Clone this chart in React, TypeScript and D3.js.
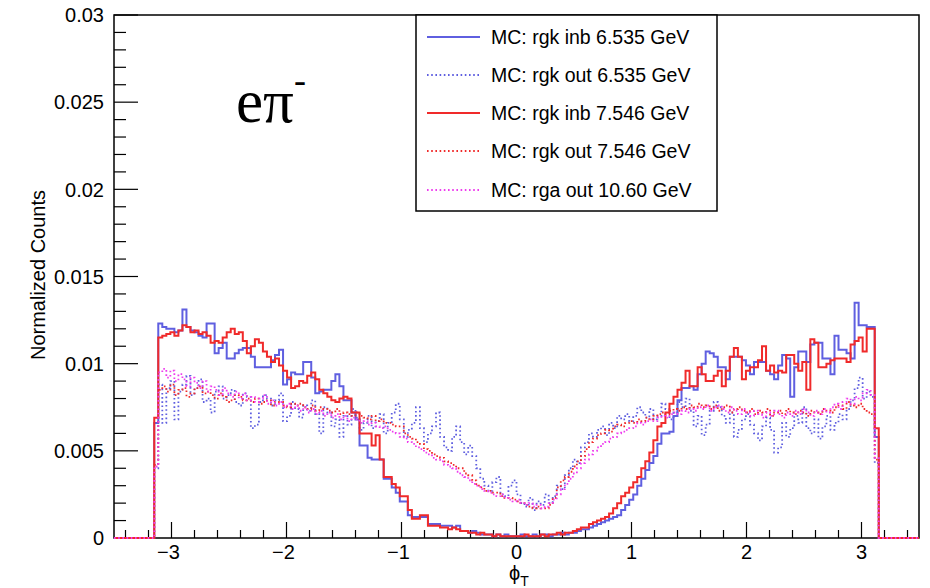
import React from "react";
import * as d3 from "d3";

// Histogram binning: 200 bins on [-3.5, 3.5]; filled bins start at bin 10
const BIN_LOW = -3.5;
const BIN_HIGH = 3.5;
const N_BINS = 200;
const FIRST_FILLED_BIN = 10;

const seriesNames = [
  "MC: rgk inb 6.535 GeV",
  "MC: rgk out 6.535 GeV",
  "MC: rgk inb 7.546 GeV",
  "MC: rgk out 7.546 GeV",
  "MC: rga out 10.60 GeV",
];

const rgkInb6535 = [
  0.0066, 0.0123, 0.0121, 0.0120, 0.0120, 0.0118, 0.0119, 0.0131, 0.0121, 0.0119,
  0.0118, 0.0116, 0.0115, 0.0123, 0.0123, 0.0106, 0.0109, 0.0112, 0.0103, 0.0103,
  0.0106, 0.0108, 0.0109, 0.0109, 0.0104, 0.0098, 0.0098, 0.0098, 0.0098, 0.0102,
  0.0105, 0.0108, 0.0088, 0.0091, 0.0095, 0.0094, 0.0094, 0.0101, 0.0101, 0.0092,
  0.0083, 0.0084, 0.0085, 0.0085, 0.0090, 0.0094, 0.0087, 0.0079, 0.0079, 0.0072,
  0.0068, 0.0053, 0.0053, 0.0046, 0.0045, 0.0045, 0.0045, 0.0034, 0.0034, 0.0029,
  0.0026, 0.0021, 0.0021, 0.0013, 0.0012, 0.0012, 0.0012, 0.0012, 0.0008, 0.0008,
  0.0008, 0.0007, 0.0007, 0.0007, 0.0006, 0.0007, 0.0004, 0.0004, 0.0003, 0.0004,
  0.0003, 0.0002, 0.0002, 0.0002, 0.0001, 0.0002, 0.0001, 0.0002, 0.0001, 0.0001,
  0.0001, 0.0002, 0.0001, 0.0001, 0.0002, 0.0001, 0.0002, 0.0002, 0.0001, 0.0002,
  0.0002, 0.0003, 0.0002, 0.0003, 0.0003, 0.0004, 0.0005, 0.0005, 0.0006, 0.0007,
  0.0008, 0.0009, 0.0010, 0.0011, 0.0012, 0.0013, 0.0016, 0.0019, 0.0022, 0.0025,
  0.0030, 0.0034, 0.0039, 0.0043, 0.0047, 0.0054, 0.0060, 0.0060, 0.0061, 0.0070,
  0.0079, 0.0086, 0.0086, 0.0087, 0.0085, 0.0094, 0.0100, 0.0107, 0.0106, 0.0104,
  0.0098, 0.0098, 0.0091, 0.0104, 0.0104, 0.0104, 0.0102, 0.0099, 0.0094, 0.0101,
  0.0101, 0.0101, 0.0096, 0.0094, 0.0091, 0.0099, 0.0105, 0.0103, 0.0081, 0.0098,
  0.0107, 0.0107, 0.0101, 0.0111, 0.0112, 0.0112, 0.0103, 0.0103, 0.0094, 0.0116,
  0.0108, 0.0108, 0.0106, 0.0103, 0.0135, 0.0122, 0.0122, 0.0121, 0.0121, 0.0058,
];

const rgkOut6535 = [
  0.0040, 0.0088, 0.0066, 0.0086, 0.0090, 0.0068, 0.0084, 0.0088, 0.0093, 0.0082,
  0.0086, 0.0091, 0.0078, 0.0080, 0.0072, 0.0084, 0.0087, 0.0080, 0.0082, 0.0085,
  0.0078, 0.0076, 0.0083, 0.0081, 0.0063, 0.0065, 0.0078, 0.0082, 0.0080, 0.0076,
  0.0079, 0.0083, 0.0067, 0.0070, 0.0078, 0.0074, 0.0069, 0.0076, 0.0073, 0.0079,
  0.0071, 0.0060, 0.0075, 0.0072, 0.0064, 0.0068, 0.0058, 0.0070, 0.0065, 0.0074,
  0.0069, 0.0062, 0.0066, 0.0070, 0.0063, 0.0067, 0.0071, 0.0060, 0.0066, 0.0072,
  0.0077, 0.0068, 0.0058, 0.0062, 0.0066, 0.0075, 0.0063, 0.0055, 0.0060, 0.0064,
  0.0072, 0.0058, 0.0052, 0.0050, 0.0058, 0.0064, 0.0055, 0.0048, 0.0053, 0.0047,
  0.0040, 0.0034, 0.0030, 0.0027, 0.0032, 0.0035, 0.0025, 0.0024, 0.0030, 0.0033,
  0.0025, 0.0020, 0.0018, 0.0023, 0.0016, 0.0021, 0.0019, 0.0025, 0.0020, 0.0024,
  0.0030, 0.0028, 0.0036, 0.0040, 0.0045, 0.0043, 0.0052, 0.0055, 0.0060, 0.0058,
  0.0062, 0.0064, 0.0059, 0.0066, 0.0063, 0.0070, 0.0068, 0.0071, 0.0067, 0.0070,
  0.0075, 0.0072, 0.0069, 0.0074, 0.0068, 0.0070, 0.0077, 0.0074, 0.0068, 0.0072,
  0.0078, 0.0075, 0.0080, 0.0073, 0.0064, 0.0070, 0.0059, 0.0065, 0.0073, 0.0078,
  0.0075, 0.0070, 0.0066, 0.0072, 0.0058, 0.0062, 0.0068, 0.0071, 0.0065, 0.0060,
  0.0056, 0.0064, 0.0069, 0.0062, 0.0049, 0.0052, 0.0066, 0.0058, 0.0063, 0.0070,
  0.0066, 0.0075, 0.0063, 0.0060, 0.0068, 0.0057, 0.0064, 0.0070, 0.0062, 0.0066,
  0.0071, 0.0068, 0.0074, 0.0079, 0.0086, 0.0092, 0.0080, 0.0084, 0.0081, 0.0043,
];

const rgkInb7546 = [
  0.0069, 0.0115, 0.0116, 0.0117, 0.0118, 0.0116, 0.0119, 0.0122, 0.0121, 0.0118,
  0.0119, 0.0117, 0.0118, 0.0116, 0.0112, 0.0113, 0.0112, 0.0115, 0.0118, 0.0120,
  0.0117, 0.0118, 0.0113, 0.0106, 0.0110, 0.0114, 0.0112, 0.0107, 0.0104, 0.0101,
  0.0103, 0.0099, 0.0096, 0.0092, 0.0086, 0.0087, 0.0090, 0.0089, 0.0093, 0.0095,
  0.0091, 0.0085, 0.0083, 0.0081, 0.0079, 0.0078, 0.0080, 0.0081, 0.0080, 0.0072,
  0.0072, 0.0060, 0.0060, 0.0060, 0.0053, 0.0059, 0.0045, 0.0035, 0.0035, 0.0031,
  0.0029, 0.0024, 0.0024, 0.0016, 0.0011, 0.0011, 0.0013, 0.0013, 0.0007, 0.0007,
  0.0007, 0.0006, 0.0006, 0.0005, 0.0006, 0.0005, 0.0004, 0.0004, 0.0003, 0.0003,
  0.0002, 0.0003, 0.0002, 0.0002, 0.0001, 0.0002, 0.0001, 0.0001, 0.0001, 0.0001,
  0.0001, 0.0001, 0.0002, 0.0001, 0.0001, 0.0001, 0.0002, 0.0001, 0.0002, 0.0002,
  0.0003, 0.0002, 0.0003, 0.0003, 0.0004, 0.0005, 0.0006, 0.0006, 0.0008, 0.0009,
  0.0010, 0.0011, 0.0012, 0.0014, 0.0017, 0.0020, 0.0024, 0.0026, 0.0029, 0.0032,
  0.0035, 0.0040, 0.0044, 0.0049, 0.0056, 0.0064, 0.0066, 0.0072, 0.0077, 0.0081,
  0.0085, 0.0089, 0.0096, 0.0087, 0.0087, 0.0098, 0.0094, 0.0090, 0.0090, 0.0093,
  0.0096, 0.0087, 0.0096, 0.0104, 0.0109, 0.0104, 0.0091, 0.0096, 0.0098, 0.0098,
  0.0102, 0.0110, 0.0096, 0.0099, 0.0095, 0.0096, 0.0095, 0.0105, 0.0105, 0.0100,
  0.0096, 0.0101, 0.0085, 0.0114, 0.0112, 0.0098, 0.0098, 0.0100, 0.0102, 0.0103,
  0.0103, 0.0103, 0.0101, 0.0111, 0.0113, 0.0115, 0.0107, 0.0120, 0.0120, 0.0063,
];

const rgkOut7546 = [
  0.0042, 0.0085, 0.0087, 0.0084, 0.0088, 0.0082, 0.0085, 0.0086, 0.0081, 0.0083,
  0.0086, 0.0087, 0.0083, 0.0084, 0.0082, 0.0080, 0.0083, 0.0081, 0.0078, 0.0079,
  0.0082, 0.0081, 0.0079, 0.0080, 0.0078, 0.0080, 0.0077, 0.0078, 0.0079, 0.0076,
  0.0078, 0.0078, 0.0076, 0.0075, 0.0077, 0.0076, 0.0077, 0.0075, 0.0074, 0.0076,
  0.0073, 0.0075, 0.0074, 0.0073, 0.0072, 0.0074, 0.0071, 0.0072, 0.0071, 0.0070,
  0.0072, 0.0070, 0.0069, 0.0068, 0.0070, 0.0067, 0.0068, 0.0066, 0.0066, 0.0065,
  0.0064, 0.0064, 0.0060, 0.0058, 0.0057, 0.0055, 0.0054, 0.0051, 0.0050, 0.0048,
  0.0047, 0.0046, 0.0044, 0.0043, 0.0042, 0.0040, 0.0040, 0.0037, 0.0036, 0.0033,
  0.0030, 0.0029, 0.0027, 0.0027, 0.0026, 0.0026, 0.0024, 0.0023, 0.0023, 0.0022,
  0.0021, 0.0020, 0.0019, 0.0018, 0.0017, 0.0018, 0.0017, 0.0017, 0.0019, 0.0023,
  0.0029, 0.0033, 0.0035, 0.0038, 0.0041, 0.0044, 0.0047, 0.0051, 0.0055, 0.0057,
  0.0059, 0.0060, 0.0062, 0.0061, 0.0064, 0.0065, 0.0064, 0.0066, 0.0067, 0.0066,
  0.0068, 0.0067, 0.0069, 0.0068, 0.0070, 0.0071, 0.0072, 0.0071, 0.0073, 0.0074,
  0.0073, 0.0075, 0.0074, 0.0076, 0.0075, 0.0077, 0.0075, 0.0076, 0.0074, 0.0076,
  0.0073, 0.0075, 0.0076, 0.0072, 0.0074, 0.0075, 0.0073, 0.0072, 0.0074, 0.0071,
  0.0073, 0.0072, 0.0074, 0.0070, 0.0072, 0.0073, 0.0071, 0.0074, 0.0072, 0.0071,
  0.0073, 0.0072, 0.0070, 0.0073, 0.0072, 0.0071, 0.0074, 0.0073, 0.0072, 0.0075,
  0.0076, 0.0074, 0.0078, 0.0076, 0.0075, 0.0077, 0.0074, 0.0072, 0.0071, 0.0045,
];

const rgaOut1060 = [
  0.0041, 0.0095, 0.0097, 0.0092, 0.0096, 0.0090, 0.0094, 0.0091, 0.0087, 0.0092,
  0.0089, 0.0086, 0.0090, 0.0084, 0.0087, 0.0085, 0.0082, 0.0086, 0.0083, 0.0081,
  0.0084, 0.0080, 0.0083, 0.0079, 0.0081, 0.0078, 0.0080, 0.0082, 0.0077, 0.0079,
  0.0076, 0.0078, 0.0075, 0.0077, 0.0074, 0.0076, 0.0073, 0.0075, 0.0072, 0.0074,
  0.0071, 0.0073, 0.0070, 0.0072, 0.0069, 0.0071, 0.0068, 0.0070, 0.0067, 0.0069,
  0.0068, 0.0066, 0.0067, 0.0065, 0.0066, 0.0064, 0.0063, 0.0064, 0.0062, 0.0061,
  0.0060, 0.0058, 0.0057, 0.0055, 0.0054, 0.0052, 0.0051, 0.0049, 0.0048, 0.0046,
  0.0045, 0.0044, 0.0042, 0.0041, 0.0040, 0.0038, 0.0036, 0.0035, 0.0033, 0.0031,
  0.0030, 0.0028, 0.0027, 0.0026, 0.0025, 0.0024, 0.0025, 0.0023, 0.0022, 0.0021,
  0.0022, 0.0020, 0.0019, 0.0020, 0.0018, 0.0019, 0.0017, 0.0018, 0.0020, 0.0022,
  0.0025, 0.0028, 0.0031, 0.0034, 0.0037, 0.0040, 0.0043, 0.0045, 0.0048, 0.0050,
  0.0052, 0.0054, 0.0055, 0.0057, 0.0058, 0.0060, 0.0061, 0.0062, 0.0063, 0.0064,
  0.0066, 0.0065, 0.0067, 0.0068, 0.0067, 0.0069, 0.0070, 0.0069, 0.0071, 0.0072,
  0.0071, 0.0073, 0.0072, 0.0074, 0.0073, 0.0075, 0.0074, 0.0076, 0.0073, 0.0075,
  0.0076, 0.0074, 0.0072, 0.0075, 0.0073, 0.0071, 0.0074, 0.0072, 0.0070, 0.0073,
  0.0071, 0.0069, 0.0072, 0.0070, 0.0073, 0.0071, 0.0069, 0.0072, 0.0070, 0.0073,
  0.0071, 0.0074, 0.0072, 0.0070, 0.0073, 0.0071, 0.0074, 0.0072, 0.0075, 0.0077,
  0.0074, 0.0078, 0.0080, 0.0077, 0.0081, 0.0079, 0.0083, 0.0085, 0.0082, 0.0046,
];

const yTickValues = [0, 0.005, 0.01, 0.015, 0.02, 0.025, 0.03];
const yTickLabels = ["0", "0.005", "0.01", "0.015", "0.02", "0.025", "0.03"];
const xTickValues = [-3, -2, -1, 0, 1, 2, 3];
const xTickLabels = ["\u22123", "\u22122", "\u22121", "0", "1", "2", "3"];

const W = 930;
const H = 588;
const FRAME = { left: 114, right: 919, top: 15, bottom: 538 };

const x = d3.scaleLinear().domain([BIN_LOW, BIN_HIGH]).range([FRAME.left, FRAME.right]);
const y = d3.scaleLinear().domain([0, 0.03]).range([FRAME.bottom, FRAME.top]);

const binWidth = (BIN_HIGH - BIN_LOW) / N_BINS;

function stepPath(values: number[]): string {
  const full = new Array(N_BINS).fill(0);
  values.forEach((v, i) => {
    full[FIRST_FILLED_BIN + i] = v;
  });
  let d = `M${x(BIN_LOW).toFixed(2)},${y(full[0]).toFixed(2)}`;
  for (let i = 0; i < N_BINS; i++) {
    const xr = x(BIN_LOW + (i + 1) * binWidth);
    d += `H${xr.toFixed(2)}`;
    if (i < N_BINS - 1) d += `V${y(full[i + 1]).toFixed(2)}`;
  }
  return d;
}

const BLUE = "#5f5fe0";
const RED = "#f02a2a";
const MAGENTA = "#ee3cee";

const styles = [
  { color: BLUE, dash: undefined as string | undefined, width: 2 },
  { color: BLUE, dash: "1.6,2.6", width: 1.8 },
  { color: RED, dash: undefined, width: 2 },
  { color: RED, dash: "1.6,2.6", width: 1.8 },
  { color: MAGENTA, dash: "1.6,2.6", width: 1.8 },
];

const seriesData = [rgkInb6535, rgkOut6535, rgkInb7546, rgkOut7546, rgaOut1060];

export default function App() {
  const xMinor = d3.range(-3.4, 3.5, 0.2).filter((v) => Math.abs(v - Math.round(v)) > 1e-6);
  const yMinor = d3.range(0, 0.0301, 0.001).filter((v) => Math.abs(v / 0.005 - Math.round(v / 0.005)) > 1e-6);
  const font = "'Liberation Sans', Arial, Helvetica, sans-serif";
  const legendY = [37, 75, 113, 151, 190];

  return (
    <svg
      width={W}
      height={H}
      style={{ position: "absolute", left: 0, top: 0, background: "#fff" }}
      fontFamily={font}
    >
      <rect x={0} y={0} width={W} height={H} fill="#fff" />

      {/* y ticks */}
      {yTickValues.map((v) => (
        <line key={`ym${v}`} x1={FRAME.left} x2={FRAME.left + 24} y1={y(v)} y2={y(v)} stroke="#000" strokeWidth={1.2} />
      ))}
      {yMinor.map((v) => (
        <line key={`yn${v}`} x1={FRAME.left} x2={FRAME.left + 12} y1={y(v)} y2={y(v)} stroke="#000" strokeWidth={1.2} />
      ))}
      {/* x ticks */}
      {xTickValues.map((v) => (
        <line key={`xm${v}`} x1={x(v)} x2={x(v)} y1={FRAME.bottom} y2={FRAME.bottom - 16} stroke="#000" strokeWidth={1.2} />
      ))}
      {xMinor.map((v) => (
        <line key={`xn${v}`} x1={x(v)} x2={x(v)} y1={FRAME.bottom} y2={FRAME.bottom - 8} stroke="#000" strokeWidth={1.2} />
      ))}

      <rect
        x={FRAME.left}
        y={FRAME.top}
        width={FRAME.right - FRAME.left}
        height={FRAME.bottom - FRAME.top}
        fill="none"
        stroke="#000"
        strokeWidth={1.5}
      />

      {/* histograms */}
      {seriesData.map((vals, i) => (
        <path
          key={i}
          d={stepPath(vals)}
          fill="none"
          stroke={styles[i].color}
          strokeWidth={styles[i].width}
          strokeDasharray={styles[i].dash}
          strokeLinejoin="miter"
        />
      ))}

      {/* tick labels */}
      {yTickValues.map((v, i) => (
        <text key={`yl${v}`} x={104} y={y(v)} dy="0.36em" textAnchor="end" fontSize={20} fill="#000">
          {yTickLabels[i]}
        </text>
      ))}
      {xTickValues.map((v, i) => (
        <text key={`xl${v}`} x={x(v) - (v < 0 ? 3 : 0)} y={559} textAnchor="middle" fontSize={20} fill="#000">
          {xTickLabels[i]}
        </text>
      ))}

      {/* axis titles */}
      <text
        transform={`translate(45,275) rotate(-90)`}
        textAnchor="middle"
        fontSize={20}
        fill="#000"
      >
        Normalized Counts
      </text>
      <text x={509} y={580} fontSize={20} fill="#000">
        ϕ
        <tspan fontSize={14} dy={6}>T</tspan>
      </text>

      {/* eπ- label */}
      <text x={236} y={122} fontFamily="'Liberation Serif', 'Times New Roman', serif" fontSize={61} fill="#000">
        eπ
        <tspan fontSize={36} dy={-30}>-</tspan>
      </text>

      {/* legend */}
      <rect x={416} y={15} width={301} height={196} fill="#fff" stroke="#000" strokeWidth={1.5} />
      {seriesNames.map((name, i) => (
        <g key={name}>
          <line
            x1={427}
            x2={480}
            y1={legendY[i]}
            y2={legendY[i]}
            stroke={styles[i].color}
            strokeWidth={styles[i].width}
            strokeDasharray={styles[i].dash}
          />
          <text x={491} y={legendY[i]} dy="0.36em" fontSize={19.5} fill="#000">
            {name}
          </text>
        </g>
      ))}
    </svg>
  );
}
